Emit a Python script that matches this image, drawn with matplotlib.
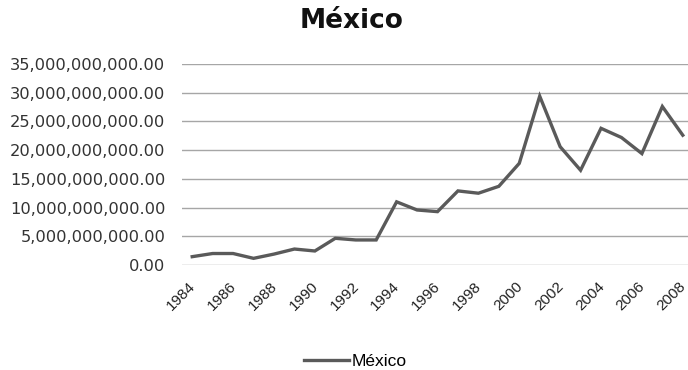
import matplotlib
matplotlib.use("Agg")
import matplotlib.pyplot as plt
from matplotlib.ticker import FuncFormatter, MultipleLocator

# Data
years = list(range(1984, 2009))
values = [1.45e9, 2.0e9, 2.0e9, 1.16e9, 1.9e9, 2.78e9, 2.44e9, 4.65e9, 4.36e9,
          4.36e9, 11.0e9, 9.58e9, 9.29e9, 12.9e9, 12.5e9, 13.7e9, 17.7e9,
          29.4e9, 20.6e9, 16.5e9, 23.8e9, 22.2e9, 19.4e9, 27.6e9, 22.6e9]
xtick_years = list(range(1984, 2009, 2))
series_name = "México"

W, H = 688, 370
fig = plt.figure(figsize=(W / 100, H / 100), dpi=100)
ax = fig.add_axes([182 / W, 1 - 265 / H, (693 - 182) / W, (265 - 64) / H])

ax.plot(years, values, color="#5a5a5a", linewidth=2.4, label=series_name,
        solid_joinstyle="miter")

ax.set_xlim(1983.5, 2008.5)
ax.set_ylim(0, 35e9)
ax.yaxis.set_major_locator(MultipleLocator(5e9))
ax.yaxis.set_major_formatter(FuncFormatter(lambda v, p: f"{v:,.2f}"))
ax.grid(axis="y", color="#a6a6a6", linewidth=1)
ax.set_axisbelow(True)
for s in ax.spines.values():
    s.set_visible(False)

# year labels drawn by hand so they can sit slightly left of the category
ax.set_xticks(xtick_years)
ax.set_xticklabels([])
ax.tick_params(axis="x", length=0)
for y in xtick_years:
    ax.annotate(str(y), xy=(y, 0), xycoords=ax.get_xaxis_transform(),
                xytext=(-4, -14), textcoords="offset pixels", rotation=45,
                ha="right", va="top", rotation_mode="anchor",
                fontsize=11, family="Liberation Sans", color="#222222",
                annotation_clip=False)
ax.tick_params(axis="y", length=0, pad=12, labelsize=11.7, labelcolor="#333333")

fig.text(352 / W, 1 - 21 / H, "México", ha="center", va="center",
         fontsize=19, fontweight="bold", color="#111111")

fig.legend(loc="center", bbox_to_anchor=(355 / W, 1 - 361 / H), frameon=False,
           handlelength=2.6, handletextpad=0.15,
           prop={"family": "Liberation Sans", "size": 12.5})

fig.savefig("out.png", dpi=100)
